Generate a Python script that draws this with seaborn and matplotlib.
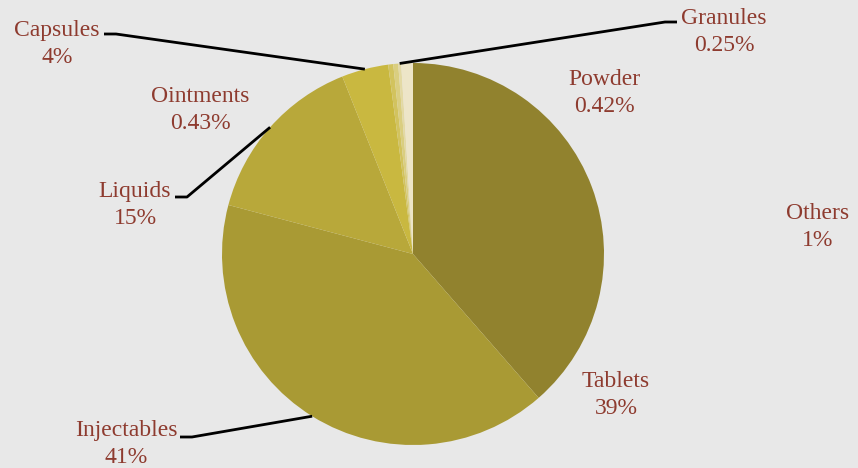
import matplotlib
matplotlib.use('Agg')
import matplotlib.pyplot as plt
import seaborn as sns
import numpy as np

# Données (parts en %)
categories = ['Tablets', 'Injectables', 'Liquids', 'Capsules',
              'Ointments', 'Powder', 'Granules', 'Others']
shares = [39, 41, 15, 4, 0.43, 0.42, 0.25, 1]
share_labels = ['39%', '41%', '15%', '4%', '0.43%', '0.42%', '0.25%', '1%']

COLORS = ['#91822E', '#A99A34', '#B8A83A', '#C9B840',
          '#D2C35E', '#DACE80', '#E3D9A4', '#EDE5C8']
TEXT_COLOR = '#8E3B2F'
BG = '#E8E8E8'

sns.set_style('white')
plt.rcParams['font.family'] = ['Liberation Serif', 'DejaVu Serif']

W, H = 858, 468
CX, CY, R = 413, 254, 191

fig = plt.figure(figsize=(W / 100, H / 100), dpi=100)
fig.patch.set_facecolor(BG)
ax = fig.add_axes([(CX - R) / W, (H - CY - R) / H, 2 * R / W, 2 * R / H])

wedges, _ = ax.pie(shares, colors=COLORS, startangle=90, counterclock=False,
                   radius=1, wedgeprops={'linewidth': 0})
ax.set_xlim(-1, 1)
ax.set_ylim(-1, 1)
ax.axis('off')


def px(x, y):
    # pixels de l'image -> coordonnées des données
    return (x - CX) / R, (CY - y) / R


def mid_point(i):
    w = wedges[i]
    a = np.deg2rad((w.theta1 + w.theta2) / 2)
    return np.cos(a), np.sin(a)


# position du bloc de texte (centre) pour chaque catégorie
label_pos = {
    'Tablets': (616, 395),
    'Injectables': (126, 444),
    'Liquids': (135, 205),
    'Capsules': (57, 44),
    'Ointments': (200, 110),
    'Powder': (604, 93),
    'Granules': (724, 32),
    'Others': (818, 227),
}
for i, cat in enumerate(categories):
    x, y = px(*label_pos[cat])
    ax.text(x, y, f'{cat}\n{share_labels[i]}', ha='center', va='center',
            fontsize=17, color=TEXT_COLOR, linespacing=1.4, clip_on=False)

# lignes de rappel : petit trait horizontal puis vers la part
leaders = {
    'Capsules': [(104, 34), (116, 34)],
    'Granules': [(677, 22), (665, 22)],
    'Liquids': [(175, 197), (187, 197)],
    'Injectables': [(180, 437), (192, 437)],
}
for cat, pts in leaders.items():
    i = categories.index(cat)
    xs = [px(*p)[0] for p in pts] + [mid_point(i)[0]]
    ys = [px(*p)[1] for p in pts] + [mid_point(i)[1]]
    ax.plot(xs, ys, color='black', linewidth=2, clip_on=False,
            solid_capstyle='butt')

plt.savefig('out.png', dpi=100, facecolor=BG)
plt.close()
